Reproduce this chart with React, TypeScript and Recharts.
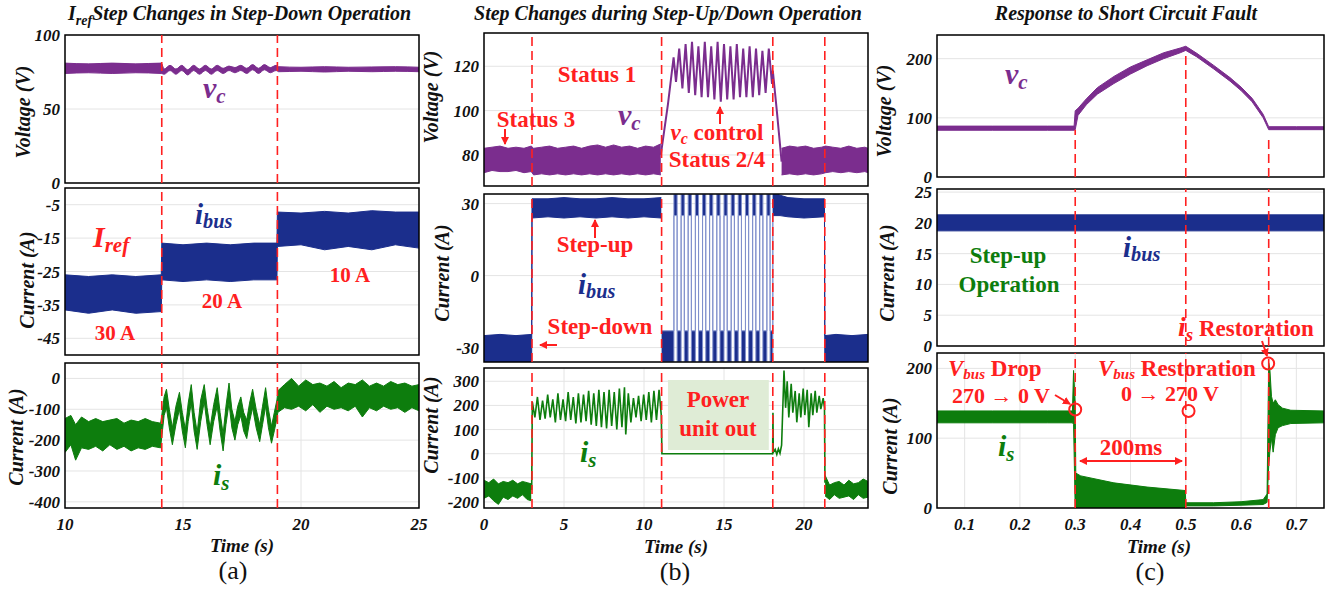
import React from "react";
import {
  Area,
  CartesianGrid,
  ComposedChart,
  Line,
  ReferenceArea,
  ReferenceDot,
  ReferenceLine,
  XAxis,
  YAxis,
} from "recharts";

const FONT = '"Liberation Serif", "Times New Roman", Times, serif';
const RED = "#ff2020";
const PURPLE = "#7b2d8e";
const NAVY = "#1b2e8c";
const GREEN = "#0d7d0d";

type Band = [number, number, number][]; // t, low, high
type Pts = [number, number][]; // t, value

// ---------- (a) Iref step changes, step-down ----------
const aTimeTicks = [10, 15, 20, 25];
const aVcTicks = [0, 50, 100];
const aBusTicks = [-45, -35, -25, -15, -5];
const aIsTicks = [-400, -300, -200, -100, 0];
const aSteps = [14.1, 19.0];

const aVc: Band = [
  [10, 74, 81], [11, 74.5, 80.5], [12, 74, 81], [13, 74.5, 80.5], [14.08, 74, 81],
  [14.2, 73.5, 77], [14.45, 76, 79.5], [14.7, 73.5, 77], [14.95, 76, 79.5],
  [15.2, 73, 76.5], [15.45, 76, 79.5], [15.7, 73.5, 77], [15.95, 76, 79.5],
  [16.2, 73.5, 77], [16.45, 76, 79.5], [16.7, 74, 77.5], [16.95, 76, 79],
  [17.2, 74.5, 78], [17.45, 76, 79.5], [17.7, 74, 77.5], [17.95, 76.5, 80],
  [18.2, 74, 77.5], [18.45, 76.5, 80], [18.7, 74.5, 78], [18.95, 76, 79.5],
  [19.05, 75.2, 78.6], [20, 75.5, 78.2], [21, 75, 78.6], [22, 75.5, 78.2],
  [23, 75.2, 78.4], [24, 75.5, 78.6], [25, 75.2, 78.2],
];

const aIbus: Band = [
  [10, -36.5, -26], [11, -37.5, -26.5], [12, -36.5, -26], [13, -37.5, -26.5], [14.08, -37, -26],
  [14.1, -27.5, -16.5], [15, -28, -17], [16, -27.5, -16.5], [17, -28, -17], [18, -27.5, -16.5], [18.98, -27.5, -16.5],
  [19.0, -17.5, -7.2], [20, -17, -7.5], [21, -18.5, -7], [22, -17.5, -7.5], [23, -18.5, -6.8], [24, -17, -7.2], [25, -18, -7.2],
];

const aIs: Band = [
  [10, -240, -130], [10.25, -215, -120], [10.45, -265, -150], [10.7, -225, -125],
  [11, -230, -140], [11.3, -220, -130], [11.6, -235, -140], [11.9, -215, -135],
  [12.2, -230, -130], [12.5, -220, -145], [12.8, -235, -135], [13.1, -225, -140],
  [13.4, -230, -130], [13.7, -220, -140], [14.05, -225, -145],
  [14.1, -190, -120], [14.2, -120, -60], [14.3, -95, -35], [14.42, -160, -100], [14.55, -215, -160],
  [14.7, -150, -90], [14.85, -100, -45], [14.97, -170, -110], [15.1, -225, -165],
  [15.22, -140, -80], [15.35, -80, -20], [15.47, -170, -110], [15.6, -230, -175],
  [15.75, -140, -70], [15.9, -75, -20], [16.02, -150, -95], [16.15, -215, -160],
  [16.3, -140, -85], [16.45, -90, -30], [16.57, -170, -110], [16.7, -235, -180],
  [16.82, -150, -90], [16.95, -80, -15], [17.07, -160, -100], [17.2, -200, -140],
  [17.32, -150, -90], [17.45, -120, -60], [17.57, -170, -110], [17.7, -195, -135],
  [17.82, -140, -80], [17.95, -95, -35], [18.1, -160, -100], [18.25, -205, -150],
  [18.37, -150, -90], [18.5, -90, -30], [18.62, -160, -100], [18.75, -210, -155],
  [18.87, -170, -110], [18.98, -130, -70],
  [19.02, -110, -40], [19.3, -95, -20], [19.6, -100, 0], [19.9, -90, -25],
  [20.2, -105, -5], [20.5, -85, -20], [20.8, -110, -15], [21.1, -90, -25],
  [21.4, -100, -10], [21.7, -95, -30], [22, -105, -15], [22.3, -90, -20],
  [22.6, -125, -5], [22.9, -95, -25], [23.2, -105, -15], [23.5, -90, -25],
  [23.8, -100, -10], [24.1, -95, -20], [24.4, -110, -15], [24.7, -95, -25], [25, -105, -20],
];

// ---------- (b) step-up / step-down ----------
const bTimeTicks = [0, 5, 10, 15, 20];
const bVcTicks = [80, 100, 120];
const bBusTicks = [-30, 0, 30];
const bIsTicks = [-200, -100, 0, 100, 200, 300];
const bSteps = [3.0, 11.1, 18.05, 21.3];

const bVcPre: Band = [
  [0, 72, 83], [0.5, 73, 83.5], [1, 72.5, 84], [1.5, 72.5, 83], [2, 73, 83.5], [2.5, 72, 83],
  [2.95, 72.5, 84], [3.1, 71, 83], [3.6, 71.5, 83.5], [4.1, 71, 84], [4.6, 71.5, 83],
  [5.1, 71, 83.5], [5.6, 71.5, 84], [6.1, 71, 83], [6.6, 71.5, 84], [7.1, 71, 84.5],
  [7.6, 71.5, 83.5], [8.1, 71, 84.5], [8.6, 71.5, 83.5], [9.1, 71, 84], [9.6, 71.5, 83],
  [10.1, 71, 84], [10.6, 71.5, 83.5], [11.05, 71, 85],
];
const bVcPost: Band = [
  [18.6, 71, 83], [19.1, 71.5, 84], [19.6, 71, 83.5], [20.1, 71.5, 84], [20.6, 71, 83],
  [21.1, 71.5, 83.5], [21.35, 72, 84], [21.8, 72.5, 83.5], [22.3, 72, 83], [22.8, 72.5, 84],
  [23.3, 72, 83], [23.8, 72.5, 83.5], [24, 72, 83],
];
const bVcCtrl: Pts = [
  [11.05, 80], [11.5, 103], [11.85, 124], [12.0, 113], [12.2, 128], [12.4, 110],
  [12.6, 130], [12.8, 108], [13.0, 131], [13.2, 107], [13.4, 129], [13.6, 106],
  [13.8, 131], [14.0, 106], [14.2, 129], [14.4, 105], [14.6, 131], [14.8, 104],
  [15.0, 130], [15.2, 105], [15.4, 129], [15.6, 105], [15.8, 130], [16.0, 106],
  [16.2, 128], [16.4, 106], [16.6, 129], [16.8, 106], [17.0, 128], [17.2, 107],
  [17.4, 127], [17.6, 108], [17.8, 128], [18.0, 112], [18.05, 118], [18.3, 100], [18.6, 77],
];

const bIbusPre: Band = [
  [0, -36, -25], [1, -36, -24.5], [2, -36, -25], [2.98, -36, -24.5],
  [3.0, 24, 32], [4, 24.5, 32], [5, 24, 32.5], [6, 24.5, 32], [7, 24, 32],
  [8, 24.5, 32.5], [9, 24, 32], [10, 24.5, 32], [11.08, 24, 32.5],
];
const bIbusLow: [number, number] = [-36, -23];
const bIbusHigh: [number, number] = [25, 34];
// switching instants while vc is controlled (first one goes low)
const bIbusSwitch = [
  11.1, 11.87, 12.07, 12.32, 12.52, 12.76, 12.96, 13.21, 13.41, 13.66, 13.86,
  14.1, 14.3, 14.55, 14.75, 15.0, 15.2, 15.45, 15.65, 15.89, 16.09, 16.34,
  16.54, 16.79, 16.99, 17.23, 17.43, 17.68, 17.88, 18.05,
];
const bIbusPost: Band = [
  [18.06, 25, 35], [18.5, 25, 33.5], [19, 24.5, 32.5], [20, 24, 32], [21.28, 24.5, 32],
  [21.3, -36, -25], [22, -36, -24.5], [23, -36, -25], [24, -36, -24.5],
];

const bIsPre: Band = [
  [0, -185, -110], [0.3, -175, -120], [0.6, -195, -105], [0.9, -210, -125],
  [1.2, -180, -115], [1.5, -190, -120], [1.8, -175, -110], [2.1, -185, -125],
  [2.4, -170, -115], [2.7, -190, -120], [2.95, -195, -125],
];
const bIsMid: Pts = [
  [2.98, -150], [3.02, 215], [3.18, 150], [3.34, 235], [3.5, 140], [3.66, 220],
  [3.82, 145], [3.98, 245], [4.14, 150], [4.3, 225], [4.46, 130], [4.62, 250],
  [4.78, 140], [4.94, 225], [5.1, 135], [5.26, 255], [5.42, 140], [5.58, 235],
  [5.74, 125], [5.9, 250], [6.06, 130], [6.22, 245], [6.38, 135], [6.54, 260],
  [6.7, 120], [6.86, 250], [7.02, 115], [7.18, 265], [7.34, 110], [7.5, 255],
  [7.66, 105], [7.82, 265], [7.98, 115], [8.14, 255], [8.3, 100], [8.46, 270],
  [8.62, 110], [8.78, 275], [8.86, 80], [9.02, 250], [9.18, 130], [9.34, 230],
  [9.5, 150], [9.66, 240], [9.82, 135], [9.98, 245], [10.14, 140], [10.3, 255],
  [10.46, 130], [10.62, 260], [10.78, 140], [10.94, 265], [11.08, 160], [11.12, 0],
  [18.04, 0], [18.06, 170], [18.08, 5], [18.2, 18], [18.3, -3], [18.4, 20],
  [18.5, 2], [18.6, 35], [18.75, 345], [18.85, 190], [18.95, 300], [19.05, 150],
  [19.2, 290], [19.3, 170], [19.45, 260], [19.55, 130], [19.7, 250], [19.8, 150],
  [19.95, 270], [20.05, 160], [20.2, 265], [20.3, 110], [20.45, 250], [20.55, 160],
  [20.7, 260], [20.8, 170], [20.95, 240], [21.05, 185], [21.2, 230], [21.28, 190], [21.31, -120],
];
const bIsPost: Band = [
  [21.32, -175, -90], [21.6, -190, -130], [21.9, -170, -120], [22.2, -185, -115],
  [22.5, -180, -130], [22.8, -175, -110], [23.1, -190, -125], [23.4, -170, -120],
  [23.7, -185, -105], [24, -180, -115],
];

// ---------- (c) short circuit fault ----------
const cTimeTicks = [0.1, 0.2, 0.3, 0.4, 0.5, 0.6, 0.7];
const cVcTicks = [0, 100, 200];
const cBusTicks = [0, 5, 10, 15, 20, 25];
const cIsTicks = [0, 100, 200];
const cSteps = [0.3, 0.5, 0.65];
const cStepTops: [number, number][] = [[0.3, 80], [0.5, 213], [0.65, 66]];

const cVc: Band = [
  [0.05, 79, 86], [0.15, 79, 86], [0.25, 79, 86], [0.298, 79, 86],
  [0.3, 80, 112], [0.305, 104, 116], [0.32, 122, 132], [0.34, 140, 151],
  [0.37, 158, 170], [0.4, 174, 186], [0.43, 188, 198], [0.46, 200, 210],
  [0.49, 210, 218], [0.5, 214, 221], [0.52, 203, 209], [0.55, 183, 189],
  [0.58, 162, 168], [0.6, 146, 152], [0.62, 127, 133], [0.64, 100, 106],
  [0.65, 80, 85], [0.7, 80, 85], [0.75, 80, 85],
];
const cIbus: Band = [
  [0.05, 18.7, 21.3], [0.3, 18.7, 21.3], [0.5, 18.7, 21.3], [0.75, 18.7, 21.3],
];
const cIs: Band = [
  [0.05, 122, 139], [0.15, 122, 139], [0.25, 122, 139], [0.295, 122, 139],
  [0.297, 120, 197], [0.3, 0, 150], [0.301, 0, 50], [0.31, 0, 46], [0.37, 0, 36],
  [0.43, 0, 30], [0.499, 0, 25], [0.5, 3, 7.5], [0.55, 3, 7.5], [0.6, 4, 9],
  [0.64, 5, 12], [0.647, 8, 20], [0.65, 60, 208], [0.652, 80, 200], [0.655, 100, 160],
  [0.658, 80, 150], [0.662, 105, 155], [0.667, 115, 148], [0.675, 118, 143],
  [0.69, 121, 140], [0.75, 122, 139],
];

// ---------- chart plumbing ----------
interface Box { x: number; y: number; w: number; h: number }

interface BandSpec { data: Band; color: string; edge?: string; smooth?: boolean }

interface PanelProps {
  box: Box;
  xDomain: [number, number];
  xTicks: number[];
  showX?: boolean;
  yDomain: [number, number];
  yTicks: number[];
  bands?: BandSpec[];
  lines?: { data: Pts; color: string; width: number }[];
  marks?: number[];
  segs?: [number, number][];
  under?: React.ReactNode;
  over?: React.ReactNode;
}

const tickStyle = {
  fontSize: 17,
  fontFamily: FONT,
  fontWeight: 700,
  fontStyle: "italic",
  fill: "#111",
};

function switchBand(times: number[], low: [number, number], high: [number, number]): Band {
  const out: Band = [];
  times.forEach((t, i) => {
    const from = i % 2 === 0 ? high : low;
    const to = i % 2 === 0 ? low : high;
    if (i > 0) out.push([t, from[0], from[1]]);
    out.push([t, to[0], to[1]]);
  });
  return out;
}

function Panel({
  box, xDomain, xTicks, showX = false, yDomain, yTicks,
  bands = [], lines = [], marks = [], segs = [], under, over,
}: PanelProps) {
  const rows: Record<string, any>[] = [];
  bands.forEach((b, i) => b.data.forEach(([t, lo, hi]) => rows.push({ t, ["b" + i]: [lo, hi] })));
  lines.forEach((l, i) => l.data.forEach(([t, v]) => rows.push({ t, ["l" + i]: v })));
  rows.sort((p, q) => p.t - q.t);

  const padL = 70;
  const padT = 14;
  const padR = 22;
  const padB = 10;
  const axisH = showX ? 28 : 0;
  return (
    <div style={{ position: "absolute", left: box.x - padL, top: box.y - padT }}>
      <ComposedChart
        width={box.w + padL + padR}
        height={box.h + padT + axisH + padB}
        data={rows}
        margin={{ top: padT, right: padR, left: 0, bottom: padB }}
      >
        <CartesianGrid stroke="#e4e4e4" strokeWidth={1} />
        <XAxis
          type="number"
          dataKey="t"
          domain={xDomain}
          ticks={xTicks}
          interval={0}
          allowDataOverflow
          height={axisH}
          axisLine={false}
          tickLine={false}
          tickSize={0}
          tickMargin={10}
          tick={showX ? tickStyle : false}
        />
        <YAxis
          type="number"
          domain={yDomain}
          ticks={yTicks}
          interval={0}
          allowDataOverflow
          width={padL}
          axisLine={false}
          tickLine={false}
          tickSize={0}
          tickMargin={5}
          tick={tickStyle}
        />
        {under}
        {bands.map((b, i) => (
          <Area
            key={"b" + i}
            dataKey={"b" + i}
            type={b.smooth ? "monotone" : "linear"}
            stroke={b.edge ?? b.color}
            strokeWidth={1}
            fill={b.color}
            fillOpacity={1}
            connectNulls
            dot={false}
            activeDot={false}
            isAnimationActive={false}
          />
        ))}
        {lines.map((l, i) => (
          <Line
            key={"l" + i}
            dataKey={"l" + i}
            type="linear"
            stroke={l.color}
            strokeWidth={l.width}
            connectNulls
            dot={false}
            activeDot={false}
            isAnimationActive={false}
          />
        ))}
        {marks.map((m) => (
          <ReferenceLine key={"m" + m} x={m} stroke={RED} strokeWidth={1.6} strokeDasharray="9 5" />
        ))}
        {segs.map(([x, top]) => (
          <ReferenceLine
            key={"s" + x}
            segment={[{ x, y: yDomain[0] }, { x, y: top }]}
            stroke={RED}
            strokeWidth={1.6}
            strokeDasharray="9 5"
          />
        ))}
        {over}
        <ReferenceArea
          x1={xDomain[0]}
          x2={xDomain[1]}
          y1={yDomain[0]}
          y2={yDomain[1]}
          fill="none"
          fillOpacity={0}
          stroke="#000"
          strokeWidth={1.5}
          ifOverflow="visible"
        />
      </ComposedChart>
    </div>
  );
}

function T({
  x, y, size = 23, color = RED, anchor = "middle", italic = false, weight = 700, children,
}: {
  x: number; y: number; size?: number; color?: string; anchor?: string;
  italic?: boolean; weight?: number; children: React.ReactNode;
}) {
  return (
    <text
      x={x}
      y={y}
      fontSize={size}
      fill={color}
      textAnchor={anchor as any}
      fontWeight={weight}
      fontStyle={italic ? "italic" : "normal"}
      fontFamily={FONT}
    >
      {children}
    </text>
  );
}

function YLabel({ x, y, text }: { x: number; y: number; text: string }) {
  return (
    <text
      transform={`translate(${x},${y}) rotate(-90)`}
      textAnchor="middle"
      dominantBaseline="central"
      fontSize={20}
      fontWeight={700}
      fontStyle="italic"
      fontFamily={FONT}
      fill="#111"
    >
      {text}
    </text>
  );
}

function Sym({ x, y, main, sub, color, size = 30 }: {
  x: number; y: number; main: string; sub: string; color: string; size?: number;
}) {
  return (
    <T x={x} y={y} size={size} color={color} anchor="start" italic>
      {main}
      <tspan fontSize={size * 0.7} dy={size * 0.15}>{sub}</tspan>
    </T>
  );
}

function Arrow({ x1, y1, x2, y2, both = false }: {
  x1: number; y1: number; x2: number; y2: number; both?: boolean;
}) {
  return (
    <line
      x1={x1} y1={y1} x2={x2} y2={y2}
      stroke={RED} strokeWidth={2}
      markerEnd="url(#ah)"
      markerStart={both ? "url(#ahs)" : undefined}
    />
  );
}

export default function App() {
  const aBox = { x: 65, w: 354 };
  const bBox = { x: 484, w: 384 };
  const cBox = { x: 937, w: 387 };
  const aX: [number, number] = [10, 25];
  const bX: [number, number] = [0, 24];
  const cX: [number, number] = [0.05, 0.75];

  return (
    <div
      style={{
        position: "absolute",
        left: 0,
        top: 0,
        width: 1335,
        height: 592,
        background: "#fff",
        overflow: "hidden",
      }}
    >
      {/* (a) */}
      <Panel box={{ ...aBox, y: 35, h: 148 }} xDomain={aX} xTicks={aTimeTicks} yDomain={[0, 100]} yTicks={aVcTicks}
        bands={[{ data: aVc, color: PURPLE, smooth: true }]} marks={aSteps} />
      <Panel box={{ ...aBox, y: 188, h: 167 }} xDomain={aX} xTicks={aTimeTicks} yDomain={[-50, 0]} yTicks={aBusTicks}
        bands={[{ data: aIbus, color: NAVY }]} marks={aSteps} />
      <Panel box={{ ...aBox, y: 363, h: 145 }} xDomain={aX} xTicks={aTimeTicks} showX yDomain={[-420, 50]} yTicks={aIsTicks}
        bands={[{ data: aIs, color: GREEN }]} marks={aSteps} />

      {/* (b) */}
      <Panel box={{ ...bBox, y: 33, h: 153 }} xDomain={bX} xTicks={bTimeTicks} yDomain={[66, 135]} yTicks={bVcTicks}
        bands={[{ data: bVcPre, color: PURPLE }, { data: bVcPost, color: PURPLE }]}
        lines={[{ data: bVcCtrl, color: PURPLE, width: 2 }]} marks={bSteps} />
      <Panel box={{ ...bBox, y: 194, h: 168 }} xDomain={bX} xTicks={bTimeTicks} yDomain={[-36, 34]} yTicks={bBusTicks}
        bands={[
          { data: bIbusPre, color: NAVY },
          { data: switchBand(bIbusSwitch, bIbusLow, bIbusHigh), color: NAVY, edge: "#8190cc" },
          { data: bIbusPost, color: NAVY },
        ]}
        marks={bSteps} />
      <Panel box={{ ...bBox, y: 368, h: 140 }} xDomain={bX} xTicks={bTimeTicks} showX yDomain={[-225, 355]} yTicks={bIsTicks}
        bands={[{ data: bIsPre, color: GREEN }, { data: bIsPost, color: GREEN }]}
        lines={[{ data: bIsMid, color: GREEN, width: 1.6 }]} marks={bSteps}
        under={<ReferenceArea x1={11.5} x2={17.8} y1={15} y2={305} fill="#dfecd6" fillOpacity={1} stroke="none" />} />

      {/* (c) */}
      <Panel box={{ ...cBox, y: 35, h: 142 }} xDomain={cX} xTicks={cTimeTicks} yDomain={[0, 240]} yTicks={cVcTicks}
        bands={[{ data: cVc, color: PURPLE }]} segs={cStepTops} />
      <Panel box={{ ...cBox, y: 189, h: 157 }} xDomain={cX} xTicks={cTimeTicks} yDomain={[0, 25.5]} yTicks={cBusTicks}
        bands={[{ data: cIbus, color: NAVY }]} marks={cSteps} />
      <Panel box={{ ...cBox, y: 353, h: 155 }} xDomain={cX} xTicks={cTimeTicks} showX yDomain={[0, 222]} yTicks={cIsTicks}
        bands={[{ data: cIs, color: GREEN }]} marks={cSteps}
        over={[
          <ReferenceDot key="d1" x={0.3} y={141} r={6} fill="none" stroke={RED} strokeWidth={2} />,
          <ReferenceDot key="d2" x={0.505} y={139} r={6} fill="none" stroke={RED} strokeWidth={2} />,
          <ReferenceDot key="d3" x={0.649} y={207} r={6} fill="none" stroke={RED} strokeWidth={2} />,
        ]} />

      <svg
        width={1335}
        height={592}
        style={{ position: "absolute", left: 0, top: 0, pointerEvents: "none" }}
      >
        <defs>
          <marker id="ah" markerWidth={10} markerHeight={10} refX={7} refY={4} orient="auto" markerUnits="userSpaceOnUse">
            <path d="M0,0 L8,4 L0,8 z" fill={RED} />
          </marker>
          <marker id="ahs" markerWidth={10} markerHeight={10} refX={1} refY={4} orient="auto" markerUnits="userSpaceOnUse">
            <path d="M8,0 L0,4 L8,8 z" fill={RED} />
          </marker>
        </defs>

        {/* titles */}
        <T x={68} y={20} size={20} color="#111" anchor="start" italic>
          I<tspan fontSize={14} dy={5}>ref</tspan>
          <tspan dy={-5}>Step Changes in Step-Down Operation</tspan>
        </T>
        <T x={668} y={20} size={20} color="#111" italic>Step Changes during Step-Up/Down Operation</T>
        <T x={1126} y={20} size={20} color="#111" italic>Response to Short Circuit Fault</T>

        {/* axis labels */}
        <YLabel x={23} y={112} text="Voltage (V)" />
        <YLabel x={27} y={280} text="Current (A)" />
        <YLabel x={16} y={437} text="Current (A)" />
        <YLabel x={431} y={97} text="Voltage (V)" />
        <YLabel x={442} y={273} text="Current (A)" />
        <YLabel x={431} y={425} text="Current (A)" />
        <YLabel x={884} y={111} text="Voltage (V)" />
        <YLabel x={887} y={273} text="Current (A)" />
        <YLabel x={890} y={446} text="Current (A)" />

        <T x={242} y={552} size={19} color="#111" italic>Time (s)</T>
        <T x={676} y={553} size={19} color="#111" italic>Time (s)</T>
        <T x={1159} y={553} size={19} color="#111" italic>Time (s)</T>
        <T x={233} y={579} size={26} color="#111" weight={400}>(a)</T>
        <T x={675} y={580} size={26} color="#111" weight={400}>(b)</T>
        <T x={1150} y={580} size={26} color="#111" weight={400}>(c)</T>

        {/* (a) annotations */}
        <Sym x={203} y={98} main="v" sub="c" color={PURPLE} />
        <Sym x={195} y={224} main="i" sub="bus" color={NAVY} size={29} />
        <Sym x={93} y={247} main="I" sub="ref" color={RED} />
        <T x={115} y={340} size={21}>30 A</T>
        <T x={222} y={308} size={21}>20 A</T>
        <T x={350} y={282} size={21}>10 A</T>
        <Sym x={213} y={485} main="i" sub="s" color={GREEN} />

        {/* (b) annotations */}
        <T x={597} y={82}>Status 1</T>
        <T x={536} y={127}>Status 3</T>
        <Arrow x1={505} y1={129} x2={505} y2={144} />
        <Sym x={618} y={125} main="v" sub="c" color={PURPLE} />
        <Arrow x1={720} y1={124} x2={720} y2={107} />
        <T x={717} y={140}>
          <tspan fontStyle="italic">v</tspan>
          <tspan fontStyle="italic" fontSize={16} dy={4}>c</tspan>
          <tspan dy={-4}> control</tspan>
        </T>
        <T x={717} y={167}>Status 2/4</T>
        <Arrow x1={595} y1={238} x2={595} y2={220} />
        <T x={595} y={252}>Step-up</T>
        <Sym x={578} y={294} main="i" sub="bus" color={NAVY} size={29} />
        <T x={600} y={334}>Step-down</T>
        <Arrow x1={557} y1={345} x2={540} y2={345} />
        <Sym x={580} y={462} main="i" sub="s" color={GREEN} />
        <T x={718} y={407}>Power</T>
        <T x={718} y={436}>unit out</T>

        {/* (c) annotations */}
        <Sym x={1005} y={84} main="v" sub="c" color={PURPLE} />
        <T x={1008} y={263} color={GREEN}>Step-up</T>
        <T x={1009} y={292} color={GREEN}>Operation</T>
        <Sym x={1123} y={257} main="i" sub="bus" color={NAVY} size={29} />
        <T x={1178} y={336} anchor="start">
          <tspan fontStyle="italic" fontSize={28}>i</tspan>
          <tspan fontStyle="italic" fontSize={19} dy={5}>s</tspan>
          <tspan dy={-5}> Restoration</tspan>
        </T>
        <Arrow x1={1262} y1={341} x2={1267} y2={356} />
        <T x={948} y={376} anchor="start">
          <tspan fontStyle="italic">V</tspan>
          <tspan fontStyle="italic" fontSize={15} dy={3}>bus</tspan>
          <tspan dy={-3}> Drop</tspan>
        </T>
        <T x={1001} y={403} size={22}>270 → 0 V</T>
        <Arrow x1={1055} y1={395} x2={1070} y2={404} />
        <T x={1098} y={376} anchor="start">
          <tspan fontStyle="italic">V</tspan>
          <tspan fontStyle="italic" fontSize={15} dy={3}>bus</tspan>
          <tspan dy={-3}> Restoration</tspan>
        </T>
        <T x={1170} y={401} size={22}>0 →  270 V</T>
        <T x={1131} y={455}>200ms</T>
        <Arrow x1={1080} y1={461} x2={1182} y2={461} both />
        <Sym x={998} y={456} main="i" sub="s" color={GREEN} />
      </svg>
    </div>
  );
}
